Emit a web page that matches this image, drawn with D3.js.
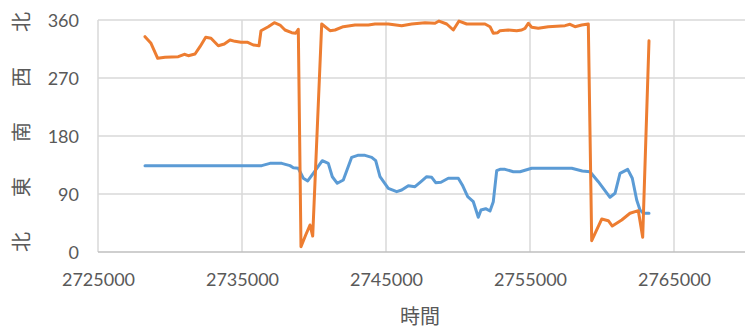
<!DOCTYPE html>
<html>
<head>
<meta charset="utf-8">
<script src="https://cdn.jsdelivr.net/npm/d3@7"></script>
<style>
  html, body { margin: 0; padding: 0; background: #fff; }
  svg { display: block; }
</style>
</head>
<body>
<svg id="chart" width="745" height="327"></svg>
<script>
// Time stamps and direction (degrees) for the two traces
const blueTime = [2728264, 2736368, 2736944, 2737757, 2738333, 2738563, 2738910, 2739257, 2739563, 2739951,
  2740576, 2740993, 2741271, 2741618, 2742035, 2742618, 2743035, 2743542, 2744007, 2744285,
  2744583, 2745160, 2745743, 2746090, 2746549, 2747014, 2747431, 2747826, 2748174, 2748451,
  2748819, 2749326, 2750021, 2750299, 2750674, 2751063, 2751410, 2751597, 2751924, 2752222,
  2752451, 2752688, 2752917, 2753264, 2753840, 2754306, 2755118, 2757896, 2758632, 2759167,
  2759743, 2760556, 2760903, 2761250, 2761785, 2762104, 2762410, 2762639, 2762868, 2763264];
const blueDir = [134, 134, 137.6, 137.6, 134, 130.8, 129.9, 114.4, 110.2, 122.1,
  141.7, 137.6, 116.8, 106.6, 111.7, 146.9, 150, 150, 146.9, 141.7,
  116.8, 98.8, 93.6, 96.2, 102.9, 101.3, 109.1, 116.8, 115.9, 107.5,
  108.2, 114.4, 114.4, 104, 85.8, 78.1, 53.8, 65.2, 67.2, 63.6,
  78.1, 126.2, 128.3, 128.3, 124.6, 124.6, 129.9, 129.9, 125.7, 124.6,
  109.1, 84.9, 91.1, 122.1, 128.3, 114.4, 80.7, 65.2, 60.1, 60.1];

const orangeTime = [2728264, 2728681, 2729146, 2729653, 2730576, 2730993, 2731271, 2731736, 2732083, 2732479,
  2732847, 2733354, 2733771, 2734167, 2734514, 2734931, 2735396, 2735785, 2736181, 2736319,
  2736826, 2737243, 2737639, 2737986, 2738451, 2738729, 2738910, 2739097, 2739424, 2739722,
  2739910, 2740535, 2741111, 2741458, 2742035, 2742847, 2743771, 2744236, 2745160, 2746090,
  2746785, 2747708, 2748403, 2748681, 2749215, 2749674, 2750069, 2750604, 2751875, 2752222,
  2752451, 2752757, 2752917, 2753493, 2754076, 2754424, 2754653, 2754882, 2755118, 2755576,
  2756271, 2757431, 2757778, 2758125, 2758590, 2759049, 2759285, 2759979, 2760438, 2760715,
  2761368, 2761944, 2762521, 2762826, 2763264];
const orangeDir = [334.1, 323.8, 300.6, 302.1, 303, 306.8, 304.6, 307.2, 318.6, 333.1,
  331.6, 320.1, 322.8, 329, 326.9, 325.4, 325.4, 321.2, 320.1, 343.4,
  349.6, 355.8, 352.2, 344.5, 340.3, 339.4, 345.6, 8.2, 26.4, 41.9,
  24.8, 353.8, 343.4, 344.5, 349.6, 352.2, 352.2, 353.8, 353.8, 351.2,
  353.8, 355.8, 354.9, 358.4, 353.8, 344.5, 358.4, 353.8, 353.8, 349.6,
  339.4, 340.3, 343.4, 344.5, 343.4, 344.5, 347.1, 354.9, 348.7, 347.1,
  349.6, 351.2, 353.3, 349.6, 352.2, 353.8, 17.5, 51.2, 48.6, 40.3,
  49.7, 60.1, 64.1, 22.8, 327.9];

const xTicks = [2725000, 2735000, 2745000, 2755000, 2765000];
const yTicks = [0, 90, 180, 270, 360];
const compassLabels = ["北", "東", "南", "西", "北"];
const xTitle = "時間";

const W = 745, H = 327;
const svg = d3.select("#chart");
const plot = { left: 98, top: 20, bottom: 252, right: 818 };

const x = d3.scaleLinear().domain([2725000, 2775000]).range([plot.left, plot.right]);
const y = d3.scaleLinear().domain([0, 360]).range([plot.bottom, plot.top]);

const textColor = "#595959";
const latinFont = "Lato, 'Open Sans', sans-serif";
const cjkFont = "'Noto Sans CJK JP', 'Noto Sans CJK SC', sans-serif";

// Gridlines
svg.append("g")
  .selectAll("line")
  .data(yTicks.filter(d => d > 0))
  .join("line")
  .attr("x1", plot.left).attr("x2", W)
  .attr("y1", d => y(d)).attr("y2", d => y(d))
  .attr("stroke", "#d9d9d9").attr("stroke-width", 1.5);

svg.append("g")
  .selectAll("line")
  .data(xTicks)
  .join("line")
  .attr("x1", d => x(d)).attr("x2", d => x(d))
  .attr("y1", plot.top).attr("y2", plot.bottom)
  .attr("stroke", "#d9d9d9").attr("stroke-width", 1.5);

// Bottom axis with tick labels
const xAxis = svg.append("g")
  .attr("transform", `translate(0,${plot.bottom})`)
  .call(d3.axisBottom(x).tickValues(xTicks).tickSize(0).tickPadding(0).tickFormat(d3.format("d")));
xAxis.select(".domain").attr("stroke", "#bfbfbf").attr("stroke-width", 1.5)
  .attr("d", `M${plot.left},0H${W}`);
xAxis.selectAll("text")
  .attr("y", 34).attr("dy", null)
  .attr("fill", textColor)
  .attr("font-family", latinFont).attr("font-size", 18);

// Left axis tick labels
const yAxis = svg.append("g")
  .attr("transform", `translate(${plot.left},0)`)
  .call(d3.axisLeft(y).tickValues(yTicks).tickSize(0).tickPadding(19));
yAxis.select(".domain").remove();
yAxis.selectAll("text")
  .attr("fill", textColor)
  .attr("font-family", latinFont).attr("font-size", 18)
  .attr("dy", "0.36em");

// Series lines
const line = d3.line().x(d => x(d[0])).y(d => y(d[1]));
const series = [
  { color: "#5b9bd5", pts: d3.zip(blueTime, blueDir) },
  { color: "#ed7d31", pts: d3.zip(orangeTime, orangeDir) }
];
svg.append("g")
  .selectAll("path")
  .data(series)
  .join("path")
  .attr("d", d => line(d.pts))
  .attr("fill", "none")
  .attr("stroke", d => d.color)
  .attr("stroke-width", 3)
  .attr("stroke-linejoin", "round")
  .attr("stroke-linecap", "round");

// Compass axis title, written bottom-to-top
const titleY = d3.scalePoint().domain(d3.range(compassLabels.length)).range([242, 22]);
svg.append("g")
  .selectAll("text")
  .data(compassLabels)
  .join("text")
  .attr("transform", (d, i) => `translate(20,${titleY(i)}) rotate(-90)`)
  .attr("text-anchor", "middle")
  .attr("dominant-baseline", "central")
  .attr("fill", textColor)
  .attr("font-family", cjkFont)
  .attr("font-size", 20)
  .text(d => d);

// Time axis title
svg.append("text")
  .attr("x", 420).attr("y", 315)
  .attr("text-anchor", "middle")
  .attr("dominant-baseline", "central")
  .attr("fill", textColor)
  .attr("font-family", cjkFont)
  .attr("font-size", 20)
  .text(xTitle);
</script>
</body>
</html>
